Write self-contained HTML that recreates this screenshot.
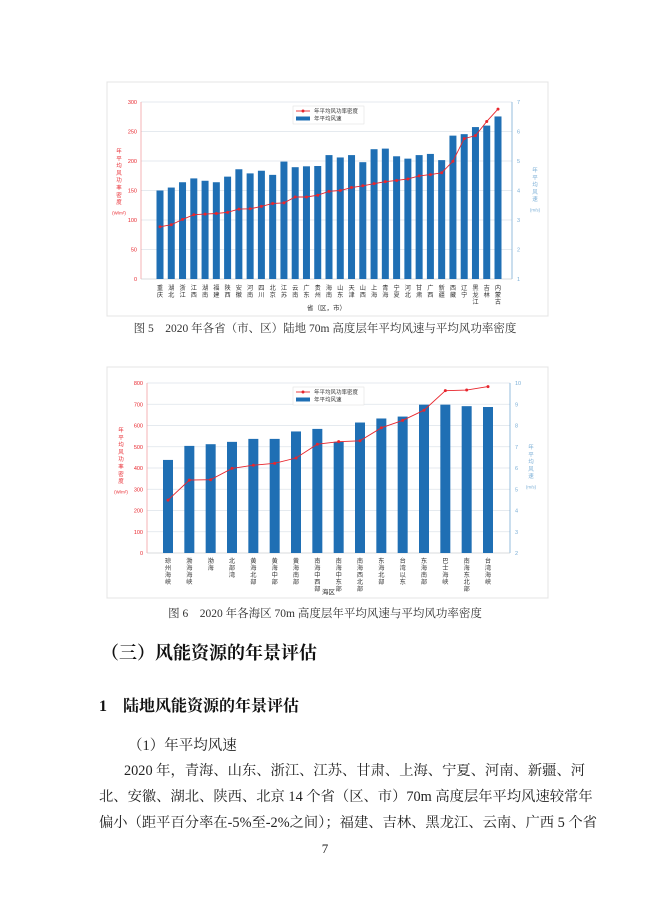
<!DOCTYPE html>
<html><head><meta charset="utf-8">
<style>
html,body{margin:0;padding:0;background:#fff;}
svg{display:block;}
text{font-family:"Liberation Sans","Noto Sans CJK SC",sans-serif;}
.s{font-family:"Liberation Serif","Noto Serif CJK SC",serif;}
.p{position:absolute;font-family:"Liberation Serif","Noto Serif CJK SC",serif;font-size:14.3px;color:#222;white-space:nowrap;text-align:justify;text-align-last:justify;line-height:18px;}
</style></head>
<body>
<div style="position:relative;width:650px;height:920px;overflow:hidden">
<svg id="c" width="650" height="920" viewBox="0 0 650 920" xmlns="http://www.w3.org/2000/svg">
<rect width="650" height="920" fill="#fff"/>
<rect x="107" y="82" width="441" height="234" fill="none" stroke="#e4e4e4" stroke-width="1"/>
<rect x="107" y="367" width="441" height="231" fill="none" stroke="#e4e4e4" stroke-width="1"/>
<g id="g1"></g><g id="g2"></g>
<text x="325" y="332" text-anchor="middle" font-size="11.5" class="s" fill="#333">图 5　2020 年各省（市、区）陆地 70m 高度层年平均风速与平均风功率密度</text>
<text x="325" y="617" text-anchor="middle" font-size="11.5" class="s" fill="#333">图 6　2020 年各海区 70m 高度层年平均风速与平均风功率密度</text>
<text x="101" y="659" font-size="18" font-weight="bold" class="s" fill="#111">（三）风能资源的年景评估</text>
<text x="99" y="711" font-size="16" font-weight="bold" class="s" fill="#111">1　陆地风能资源的年景评估</text>
<text x="128" y="750" font-size="14.5" class="s" fill="#222">（1）年平均风速</text>
<text x="325" y="853" text-anchor="middle" font-size="13" class="s" fill="#222">7</text>
</svg>
<div class="p" style="left:124px;top:762px;width:429px">2020 年，青海、山东、浙江、江苏、甘肃、上海、宁夏、河南、新疆、河</div>
<div class="p" style="left:99px;top:788px;width:454px">北、安徽、湖北、陕西、北京 14 个省（区、市）70m 高度层年平均风速较常年</div>
<div class="p" style="left:99px;top:814px;width:454px">偏小（距平百分率在-5%至-2%之间）；福建、吉林、黑龙江、云南、广西 5 个省</div>
</div>
<script>
var NS="http://www.w3.org/2000/svg";
function el(p,t,a,txt){var e=document.createElementNS(NS,t);for(var k in a)e.setAttribute(k,a[k]);if(txt!=null)e.textContent=txt;p.appendChild(e);return e;}
var RED="#e8262d",BLUE="#1f6fb4",RB="#7aaed6";
function chart(g,o){
 var L=o.L,R=o.R,T=o.T,B=o.B;
 for(var i=0;i<=o.ln;i++){var v=i*o.ls,y=B-(v/o.lmax)*(B-T);
  el(g,"line",{x1:L,x2:R,y1:y,y2:y,stroke:"#dde3ea","stroke-width":0.7});
  el(g,"text",{x:L-4,y:y+2,"font-size":5.5,fill:RED,"text-anchor":"end"},String(v));}
 for(var v=o.rmin;v<=o.rmax;v++){var y=B-(v-o.rmin)/(o.rmax-o.rmin)*(B-T);
  el(g,"text",{x:R+5,y:y+2,"font-size":5.5,fill:RB},String(v));}
 el(g,"line",{x1:L,x2:L,y1:T,y2:B,stroke:"#f2a0a3","stroke-width":0.8});
 el(g,"line",{x1:R,x2:R,y1:T,y2:B,stroke:RB,"stroke-width":0.8});
 el(g,"line",{x1:L,x2:R,y1:B,y2:B,stroke:"#ccc","stroke-width":0.6});
 var n=o.bars.length,pts=[];
 for(var i=0;i<n;i++){var cx=o.x0+i*(o.x1-o.x0)/(n-1);
  var yb=B-(o.bars[i]-o.rmin)/(o.rmax-o.rmin)*(B-T);
  el(g,"rect",{x:cx-o.bw/2,y:yb,width:o.bw,height:B-yb,fill:BLUE});
  pts.push([cx,B-o.line[i]/o.lmax*(B-T)]);
  var lab=o.labels[i];
  for(var j=0;j<lab.length;j++)el(g,"text",{x:cx,y:o.ly+j*7,"font-size":6.2,fill:"#333","text-anchor":"middle"},lab[j]);}
 el(g,"polyline",{points:pts.map(function(p){return p.join(",")}).join(" "),fill:"none",stroke:RED,"stroke-width":0.9});
 pts.forEach(function(p){el(g,"circle",{cx:p[0],cy:p[1],r:1.5,fill:RED});});
 var lt="年平均风功率密度";for(var j=0;j<lt.length;j++)el(g,"text",{x:o.ltx,y:o.lty+j*7.3,"font-size":5.5,fill:RED,"text-anchor":"middle"},lt[j]);
 el(g,"text",{x:o.ltx,y:o.lty+lt.length*7.3+3,"font-size":4.5,fill:RED,"text-anchor":"middle"},"(W/m²)");
 var rt="年平均风速";for(var j=0;j<rt.length;j++)el(g,"text",{x:o.rtx,y:o.rty+j*7.3,"font-size":5.5,fill:RB,"text-anchor":"middle"},rt[j]);
 el(g,"text",{x:o.rtx,y:o.rty+rt.length*7.3+3,"font-size":4.5,fill:RB,"text-anchor":"middle"},"(m/s)");
 el(g,"text",{x:(L+R)/2,y:o.xty,"font-size":6.5,fill:"#333","text-anchor":"middle"},o.xt);
 var lx=o.lgx,ly=o.lgy;
 el(g,"rect",{x:lx,y:ly,width:71,height:18,fill:"#fff",stroke:"#ddd","stroke-width":0.5});
 el(g,"line",{x1:lx+3,x2:lx+17,y1:ly+5,y2:ly+5,stroke:RED,"stroke-width":0.9});
 el(g,"circle",{cx:lx+10,cy:ly+5,r:1.5,fill:RED});
 el(g,"text",{x:lx+21,y:ly+7,"font-size":5.5,fill:"#333"},"年平均风功率密度");
 el(g,"rect",{x:lx+3,y:ly+10.5,width:14,height:4,fill:BLUE});
 el(g,"text",{x:lx+21,y:ly+14.5,"font-size":5.5,fill:"#333"},"年平均风速");
}
chart(document.getElementById("g1"),{L:141,R:512,T:102,B:279,lmax:300,ln:6,ls:50,rmin:1,rmax:7,
 x0:160,x1:498,bw:7,ly:290,xt:"省（区，市）",xty:310,ltx:119,lty:153,rtx:535,rty:172,lgx:293,lgy:106,
 bars:[4.0,4.1,4.28,4.41,4.33,4.28,4.47,4.72,4.58,4.67,4.53,4.98,4.79,4.82,4.83,5.2,5.12,5.2,4.96,5.4,5.42,5.16,5.08,5.2,5.24,5.03,5.86,5.91,6.15,6.2,6.51],
 line:[88.5,92,101,109,110,111,113,118.5,119,123,128,129,139,139,142,148.6,150,155,158,161.6,165,167,169.5,174.7,177,180,199.6,238,243,267,288],
 labels:["重庆","湖北","浙江","江西","湖南","福建","陕西","安徽","河南","四川","北京","江苏","云南","广东","贵州","海南","山东","天津","山西","上海","青海","宁夏","河北","甘肃","广西","新疆","西藏","辽宁","黑龙江","吉林","内蒙古"]});
chart(document.getElementById("g2"),{L:147,R:510,T:383,B:553,lmax:800,ln:8,ls:100,rmin:2,rmax:10,
 x0:168,x1:488,bw:10,ly:563,xt:"海区",xty:594,ltx:121,lty:432,rtx:531,rty:449,lgx:293,lgy:387,
 bars:[6.38,7.04,7.12,7.23,7.37,7.37,7.72,7.84,7.23,8.14,8.33,8.42,8.98,8.98,8.91,8.87],
 line:[249,343,345,398,413,422,447,512,524,528,589,624,672,764,767,783],
 labels:["琼州海峡","渤海海峡","渤海","北部湾","黄海北部","黄海中部","黄海南部","南海中西部","南海中东部","南海西北部","东海北部","台湾以东","东海南部","巴士海峡","南海东北部","台湾海峡"]});
</script>
</body></html>
